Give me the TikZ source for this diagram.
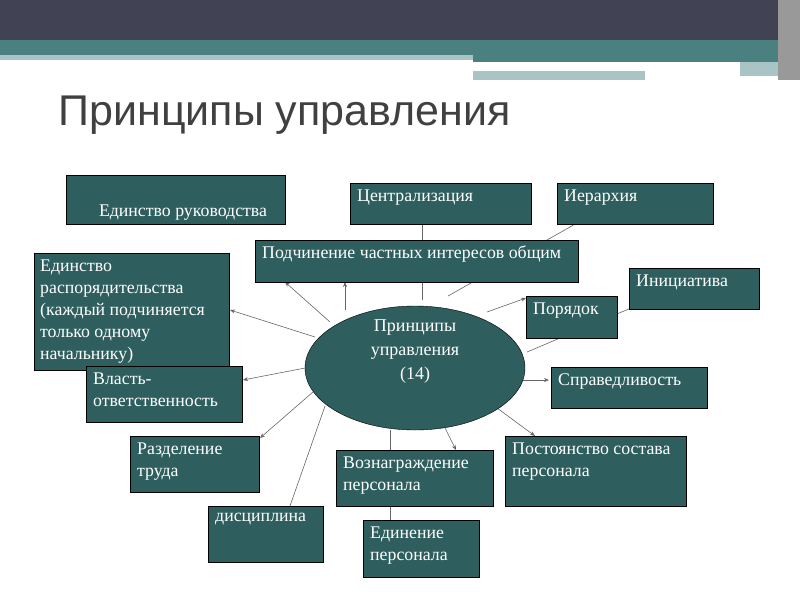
\documentclass[tikz,border=0pt]{standalone}
\usepackage{fontspec}
\setmainfont{Liberation Serif}
\newfontfamily\titlefont{Liberation Sans}
\usetikzlibrary{arrows.meta}
\definecolor{boxc}{HTML}{2F5E5E}
\definecolor{bandA}{HTML}{424255}
\definecolor{bandB}{HTML}{4A8080}
\definecolor{bandC}{HTML}{A8C4C4}
\begin{document}
\begin{tikzpicture}[x=1pt,y=-1pt,
  box/.style={draw=black,fill=boxc,anchor=north west,inner sep=0pt},
  lbl/.style={text=white,font=\fontsize{17.8}{22}\selectfont,anchor=north west,align=left,inner sep=0pt},
  conn/.style={draw=black!60,line width=0.6pt,-{Stealth[length=5pt,width=4pt]}},
  plain/.style={draw=black!60,line width=0.6pt}]
\useasboundingbox (0,0) rectangle (800,600);
\fill[white] (0,0) rectangle (800,600);
\fill[bandA] (0,0) rectangle (800,40);
\fill[bandB] (0,40) rectangle (800,55);
\fill[bandC] (0,55) rectangle (473,60);
\fill[bandB] (473,55) rectangle (785,62);
\fill[bandC] (740,62) rectangle (785,76);
\fill[bandC] (473,71) rectangle (645,80);
\fill[black!40] (778,0) rectangle (800,80);
\node[anchor=west,font=\titlefont\fontsize{43}{45}\selectfont,text=black!75] (title) at (55,115) {Принципы управления};
% connectors first (boxes drawn on top)
\coordinate (e1) at (330,322); \coordinate (t1) at (285,282);
\coordinate (e2) at (345,310); \coordinate (t2) at (345,282);
\coordinate (e3) at (422,300); \coordinate (t3) at (422,210);
\coordinate (e4) at (448,296); \coordinate (t4) at (600,210);
\coordinate (e5) at (487,312); \coordinate (t5) at (526,298);
\coordinate (e6) at (527,352); \coordinate (t6) at (650,300);
\coordinate (e7) at (520,380); \coordinate (t7) at (549,380);
\coordinate (e8) at (497,408); \coordinate (t8) at (535,436);
\coordinate (e9) at (445,428); \coordinate (t9) at (456,450);
\coordinate (e10) at (390,430); \coordinate (t10) at (390,520);
\coordinate (e11) at (325,406); \coordinate (t11) at (290,506);
\coordinate (e12) at (313,392); \coordinate (t12) at (260,438);
\coordinate (e13) at (305,368); \coordinate (t13) at (243,380);
\coordinate (e14) at (315,337); \coordinate (t14) at (230,310);
\draw[conn] (e1)--(t1); \draw[conn] (e2)--(t2); \draw[plain] (e3)--(t3);
\draw[plain] (e4)--(t4); \draw[conn] (e5)--(t5); \draw[plain] (e6)--(t6);
\draw[conn] (e7)--(t7); \draw[conn] (e8)--(t8); \draw[conn] (e9)--(t9);
\draw[plain] (e10)--(t10); \draw[plain] (e11)--(t11); \draw[conn] (e12)--(t12);
\draw[conn] (e13)--(t13); \draw[conn] (e14)--(t14);
% ellipse
\draw[black,fill=boxc] (415,368) ellipse [x radius=110, y radius=62];
\node[text=white,font=\fontsize{18}{24}\selectfont,align=center] (center) at (415,352) {Принципы\\управления\\(14)};
% boxes
\node[box,minimum width=219,minimum height=49] (b1) at (66,175) {};
\node[lbl,anchor=center] (b1t) at (183,213) {Единство руководства};
\node[box,minimum width=181,minimum height=41] (b2) at (350,183) {};
\node[lbl] (b2t) at (357,190) {Централизация};
\node[box,minimum width=156,minimum height=41] (b3) at (557,183) {};
\node[lbl] (b3t) at (564,190) {Иерархия};
\node[box,minimum width=323,minimum height=42] (b4) at (255,240) {};
\node[lbl] (b4t) at (262,246) {Подчинение частных интересов общим};
\node[box,minimum width=130,minimum height=41] (b5) at (629,268) {};
\node[lbl] (b5t) at (636,275) {Инициатива};
\node[box,minimum width=91,minimum height=42] (b6) at (526,296) {};
\node[lbl] (b6t) at (533,303) {Порядок};
\node[box,minimum width=195,minimum height=117] (b7) at (34,253) {};
\node[lbl] (b7t) at (40,260) {Единство\\распорядительства\\(каждый подчиняется\\только одному\\начальнику)};
\node[box,minimum width=156,minimum height=41] (b8) at (551,367) {};
\node[lbl] (b8t) at (558,374) {Справедливость};
\node[box,minimum width=156,minimum height=56] (b9) at (86,366) {};
\node[lbl] (b9t) at (93,373) {Власть-\\ответственность};
\node[box,minimum width=129,minimum height=56] (b10) at (130,436) {};
\node[lbl] (b10t) at (137,443) {Разделение\\труда};
\node[box,minimum width=181,minimum height=70] (b11) at (505,436) {};
\node[lbl] (b11t) at (512,443) {Постоянство состава\\персонала};
\node[box,minimum width=157,minimum height=56] (b12) at (336,450) {};
\node[lbl] (b12t) at (343,457) {Вознаграждение\\персонала};
\node[box,minimum width=115,minimum height=56] (b13) at (208,506) {};
\node[lbl] (b13t) at (215,513) {дисциплина};
\node[box,minimum width=116,minimum height=57] (b14) at (363,520) {};
\node[lbl] (b14t) at (370,527) {Единение\\персонала};
\end{tikzpicture}
\end{document}
